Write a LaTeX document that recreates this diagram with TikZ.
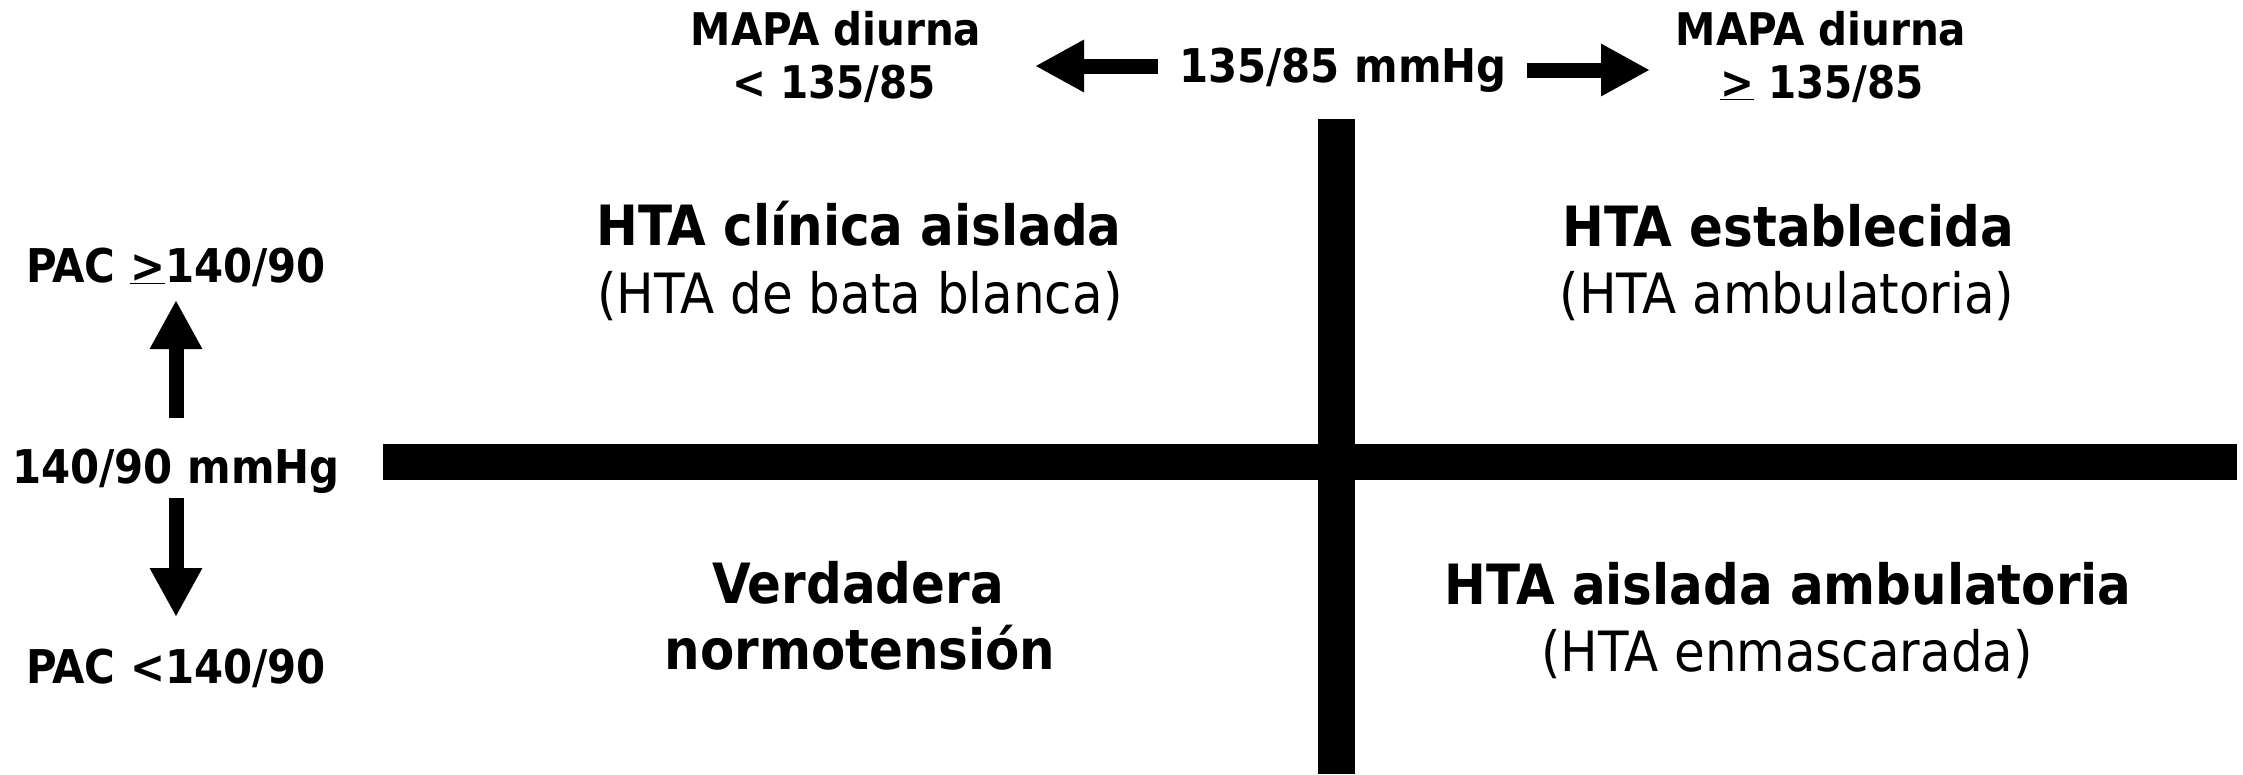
\documentclass[tikz,border=0pt]{standalone}
\usepackage{fontspec}
\setmainfont{DejaVu Sans Condensed}
\usetikzlibrary{arrows.meta}
\newcommand\labfont{\fontsize{45}{54}\selectfont\bfseries}
\newcommand\sidefont{\fontsize{46.5}{56}\selectfont\bfseries}
\newcommand\titfont{\fontsize{55.5}{66}\selectfont\bfseries}
\newcommand\subfont{\fontsize{55.5}{66}\selectfont}
\tikzset{
  lab/.style={font=\labfont, inner sep=0pt, anchor=base},
  side/.style={font=\sidefont, inner sep=0pt, anchor=base},
  tit/.style={font=\titfont, inner sep=0pt, anchor=base},
  sub/.style={font=\subfont, inner sep=0pt, anchor=base},
  bar/.style={fill=black, draw=none},
  blockarrow/.style={line width=15pt, -{Triangle[length=49pt,width=49pt]}}
}
\begin{document}
\begin{tikzpicture}[x=1pt,y=-1pt]
\useasboundingbox (0,0) rectangle (2243,774);
% cross
\fill[bar] (383,444) rectangle (2237,480);
\fill[bar] (1318,119) rectangle (1355,774);
% top labels
\node[lab] (mapaL) at (836,45) {MAPA diurna};
\node[lab] (valL) at (834,98) {< 135/85};
\node[lab] (mapaR) at (1821,45) {MAPA diurna};
\node[lab] (valR) at (1822,98) {\underline{>} 135/85};
\node[side] (mid) at (1343,82) {135/85 mmHg};
\coordinate (ltip) at (1035,66);
\coordinate (rtip) at (1650,70);
\draw[blockarrow] ([xshift=-21pt]mid.west |- ltip) -- (ltip);
\draw[blockarrow] ([xshift=20pt]mid.east |- rtip) -- (rtip);
% left labels
\node[side] (pacH) at (176,282) {PAC \underline{>}140/90};
\node[side] (pacM) at (176,483) {140/90 mmHg};
\node[side] (pacL) at (176,683) {PAC <140/90};
\coordinate (utip) at (176,300);
\coordinate (dtip) at (176,617);
\draw[blockarrow] (176,418) -- (utip);
\draw[blockarrow] (176,498) -- (dtip);
% quadrants
\node[tit] (q1a) at (859,245) {HTA clínica aislada};
\node[sub] (q1b) at (860,313) {(HTA de bata blanca)};
\node[tit] (q2a) at (1788,246) {HTA establecida};
\node[sub] (q2b) at (1787,313) {(HTA ambulatoria)};
\node[tit] (q3a) at (858,603) {Verdadera};
\node[tit] (q3b) at (860,669) {normotensión};
\node[tit] (q4a) at (1788,604) {HTA aislada ambulatoria};
\node[sub] (q4b) at (1787,671) {(HTA enmascarada)};
\end{tikzpicture}
\end{document}
